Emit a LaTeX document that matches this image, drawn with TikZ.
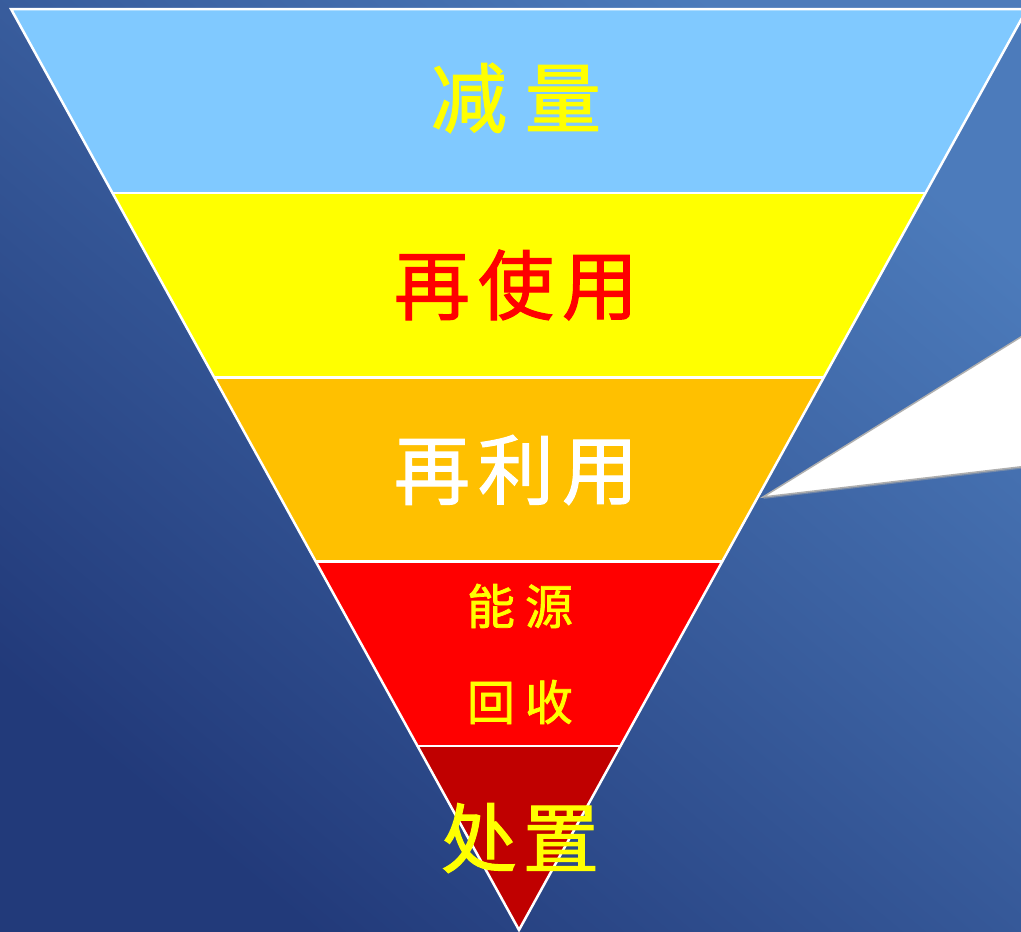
\documentclass[tikz,border=0pt]{standalone}
\usepackage{fontspec}
\newfontfamily\cjk[FakeBold=1.5]{Noto Sans CJK SC}
\usetikzlibrary{calc}
\definecolor{bgdark}{HTML}{223A7A}
\definecolor{bglight}{HTML}{4C7BBB}
\definecolor{bandA}{HTML}{80C9FF}
\definecolor{bandB}{HTML}{FFFF00}
\definecolor{bandC}{HTML}{FFC000}
\definecolor{bandD}{HTML}{FF0000}
\definecolor{bandE}{HTML}{C00000}
\definecolor{calloutline}{HTML}{AFAFAF}
\tikzset{
  band/.style={draw=white, line width=2.5pt, line join=miter},
  lbl/.style={inner sep=0pt, font=\cjk},
  big/.style={lbl, font=\cjk\fontsize{76}{76}\selectfont},
  small/.style={lbl, font=\cjk\fontsize{48}{48}\selectfont},
}
\begin{document}
\begin{tikzpicture}[x=1pt,y=-1pt]
\useasboundingbox (0,0) rectangle (1021,932);
\clip (0,0) rectangle (1021,932);
\shade[top color=bglight, bottom color=bgdark, shading angle=-40] (0,0) rectangle (1021,932);
% triangle corners
\coordinate (TL) at (11,9);
\coordinate (TR) at (1027,9);
\coordinate (AP) at (519,930);
\foreach \i/\k in {0/0,1/0.2,2/0.4,3/0.6,4/0.8}{
  \coordinate (L\i) at ($(TL)!\k!(AP)$);
  \coordinate (R\i) at ($(TR)!\k!(AP)$);
}
\fill[bandA] (L0) -- (R0) -- (R1) -- (L1) -- cycle;
\fill[bandB] (L1) -- (R1) -- (R2) -- (L2) -- cycle;
\fill[bandC] (L2) -- (R2) -- (R3) -- (L3) -- cycle;
\fill[bandD] (L3) -- (R3) -- (R4) -- (L4) -- cycle;
\fill[bandE] (L4) -- (R4) -- (AP) -- cycle;
\draw[band] (TL) -- (TR) -- (AP) -- cycle;
\foreach \i in {1,2,3,4}{ \draw[band] (L\i) -- (R\i); }
% callout pointer
\coordinate (CT) at (763,497);
\coordinate (CU) at (1045,322);
\coordinate (CB) at (1045,464);
\fill[black!35, opacity=0.5] ([yshift=-2]CT) -- ([yshift=-2]CU) -- ([yshift=-2]CB) -- cycle;
\filldraw[fill=white, draw=calloutline, line width=1.5pt, line join=miter] (CT) -- (CU) -- (CB) -- cycle;
% labels
\node[big, text=bandB] (t1) at (516,98) {减\hspace{18pt}量};
\node[big, text=red] (t2) at (516,285) {再\hspace{8pt}使\hspace{8pt}用};
\node[big, text=white] (t3) at (516,470) {再\hspace{8pt}利\hspace{8pt}用};
\node[small, text=bandB] (t4) at (520,606) {能\hspace{10pt}源};
\node[small, text=bandB] (t5) at (520,702) {回\hspace{10pt}收};
\node[big, text=bandB] (t6) at (520,838) {处\hspace{6pt}置};
\end{tikzpicture}
\end{document}
